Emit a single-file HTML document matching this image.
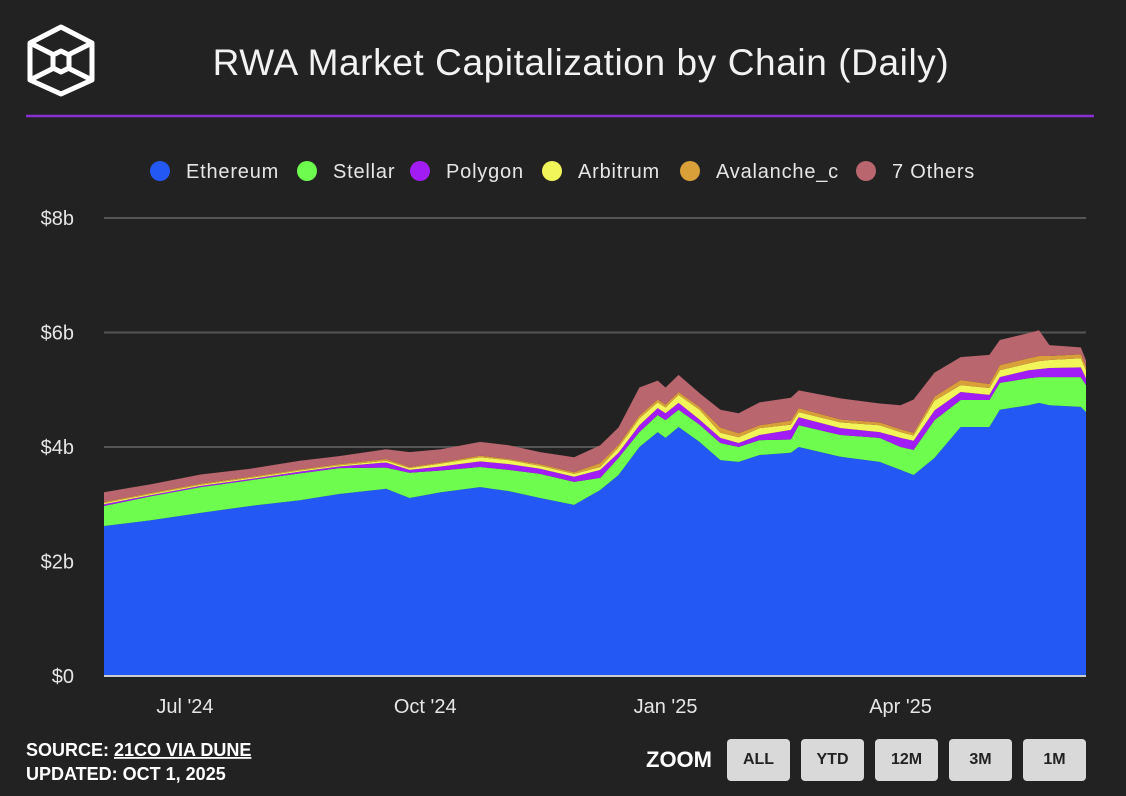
<!DOCTYPE html>
<html><head><meta charset="utf-8">
<style>
html,body{margin:0;padding:0;background:#222;}
body{width:1126px;height:796px;position:relative;overflow:hidden;font-family:"Liberation Sans",sans-serif;color:#eee;}
.btn{position:absolute;top:739px;width:63px;height:42px;background:#d9d9d9;border-radius:4px;color:#222;font-weight:bold;font-size:16px;line-height:42px;text-align:center;}
</style></head><body>
<svg width="1126" height="796" style="position:absolute;left:0;top:0">
<g fill="none" stroke="#fff" stroke-width="5" stroke-linejoin="round">
<polygon points="61,27 92,43 92,80 61,94 30,80 30,43"/>
<line x1="30" y1="43" x2="54" y2="55"/><line x1="92" y1="43" x2="68" y2="55"/>
<line x1="30" y1="80" x2="54" y2="68"/><line x1="92" y1="80" x2="68" y2="68"/>
<polygon points="61,51 69,55 69,68 61,72 53,68 53,55"/>
</g>
<text x="581" y="75" text-anchor="middle" font-size="37" letter-spacing="0.6" fill="#f2f2f2">RWA Market Capitalization by Chain (Daily)</text>
<line x1="26" y1="116" x2="1094" y2="116" stroke="#8a2fd0" stroke-width="2.5"/>
<g id="legend"></g>
<g id="grid"></g>
<g id="areas"></g>
<g id="axes"></g>
<text x="26" y="756" font-size="18" font-weight="bold" fill="#fff">SOURCE: <tspan text-decoration="underline">21CO VIA DUNE</tspan></text>
<text x="26" y="780" font-size="18" font-weight="bold" fill="#fff">UPDATED: OCT 1, 2025</text>
<text x="646" y="767" font-size="22" font-weight="bold" fill="#fff">ZOOM</text>
</svg>
<div class="btn" style="left:727px">ALL</div>
<div class="btn" style="left:801px">YTD</div>
<div class="btn" style="left:875px">12M</div>
<div class="btn" style="left:949px">3M</div>
<div class="btn" style="left:1023px">1M</div>
<script>
const NS="http://www.w3.org/2000/svg";
// days since 2024-05-31
const days=[0,18,37,56,75,90,108,117,129,144,155,167,180,190,197,205,212,215,220,228,236,243,251,263,266,282,297,305,310,318,328,339,343,354,358,362,374,376];
const ethereum=[2.62,2.72,2.85,2.97,3.07,3.18,3.27,3.11,3.21,3.30,3.23,3.11,2.99,3.25,3.51,4.00,4.26,4.16,4.35,4.09,3.77,3.74,3.86,3.90,4.00,3.83,3.74,3.60,3.51,3.81,4.35,4.35,4.65,4.73,4.77,4.73,4.70,4.61];
const stellar=[0.35,0.42,0.45,0.45,0.47,0.45,0.37,0.44,0.38,0.35,0.37,0.42,0.40,0.21,0.30,0.26,0.30,0.31,0.30,0.30,0.30,0.26,0.26,0.23,0.38,0.38,0.42,0.40,0.44,0.66,0.47,0.47,0.47,0.47,0.45,0.49,0.52,0.47];
const polygon=[0.03,0.02,0.02,0.02,0.03,0.03,0.09,0.05,0.07,0.10,0.10,0.09,0.09,0.14,0.09,0.12,0.12,0.12,0.12,0.09,0.09,0.07,0.09,0.17,0.14,0.12,0.10,0.16,0.16,0.17,0.14,0.09,0.10,0.14,0.14,0.16,0.17,0.12];
const arbitrum=[0.02,0.02,0.02,0.02,0.02,0.02,0.03,0.03,0.05,0.07,0.07,0.05,0.05,0.05,0.09,0.12,0.10,0.10,0.14,0.17,0.09,0.10,0.12,0.09,0.09,0.10,0.12,0.10,0.09,0.17,0.12,0.12,0.12,0.12,0.14,0.14,0.16,0.14];
const avalanche=[0.02,0.02,0.02,0.02,0.02,0.02,0.03,0.02,0.02,0.03,0.02,0.03,0.03,0.07,0.05,0.05,0.05,0.05,0.05,0.05,0.09,0.07,0.05,0.07,0.07,0.05,0.05,0.05,0.05,0.07,0.09,0.07,0.09,0.09,0.09,0.07,0.07,0.07];
const others=[0.17,0.15,0.16,0.14,0.15,0.14,0.17,0.26,0.23,0.24,0.24,0.21,0.26,0.31,0.30,0.49,0.33,0.30,0.30,0.24,0.31,0.35,0.40,0.40,0.31,0.37,0.33,0.42,0.58,0.42,0.40,0.51,0.44,0.44,0.45,0.19,0.12,0.10];
const seriesNames=["Ethereum","Stellar","Polygon","Arbitrum","Avalanche_c","7 Others"];
const yTicks=[0,2,4,6,8];
const yTickLabels=["$0","$2b","$4b","$6b","$8b"];
const xTickDays=[31,123,215,305];
const xTickLabels=["Jul '24","Oct '24","Jan '25","Apr '25"];

const series=[ethereum,stellar,polygon,arbitrum,avalanche,others];
const colors=["#2358f5","#6efc4f","#a21cf5","#f2f55a","#d9a03a","#b9666e"];
const X0=104,X1=1086,Y0=676,Y8=218;
const xs=d=>X0+(d-days[0])*(X1-X0)/(days[days.length-1]-days[0]);
const ys=v=>Y0-v*(Y0-Y8)/8;
function el(t,a,p){const e=document.createElementNS(NS,t);for(const k in a)e.setAttribute(k,a[k]);p.appendChild(e);return e;}
const grid=document.getElementById('grid'),axes=document.getElementById('axes'),areas=document.getElementById('areas'),legend=document.getElementById('legend');
yTicks.forEach((v,i)=>{
  if(v>0){const l=el('line',{x1:X0,x2:X1,y1:ys(v),y2:ys(v),stroke:'#555','stroke-width':2},grid);
  
  }
  const t=el('text',{x:74,y:ys(v)+7,'text-anchor':'end','font-size':20,fill:'#e6e6e6'},axes);
  t.textContent=yTickLabels[i];
  
  
});
const base=days.map(()=>0);
series.forEach((s,k)=>{
  const top=s.map((v,i)=>base[i]+v);
  let d='M'+days.map((dd,i)=>xs(dd)+','+ys(top[i])).join(' L');
  for(let i=days.length-1;i>=0;i--)d+=' L'+xs(days[i])+','+ys(base[i]);
  d+='Z';
  const p=el('path',{d:d,fill:colors[k]},areas);
  
  
  top.forEach((v,i)=>base[i]=v);
});
const bl=el('line',{x1:X0,x2:X1,y1:Y0,y2:Y0,stroke:'#ccc','stroke-width':2},axes);


xTickDays.forEach((d,i)=>{
  const t=el('text',{x:xs(d),y:713,'text-anchor':'middle','font-size':20,fill:'#e6e6e6'},axes);
  t.textContent=xTickLabels[i];
  
  
});
const lx=[160,307,420,552,690,866];
seriesNames.forEach((n,i)=>{
  const g=el('g',{},legend);
  
  
  el('circle',{cx:lx[i],cy:171,r:10,fill:colors[i]},g);
  const t=el('text',{x:lx[i]+26,y:178,'font-size':20,'letter-spacing':0.8,fill:'#e6e6e6'},g);
  t.textContent=n;
});
</script>
</body></html>
